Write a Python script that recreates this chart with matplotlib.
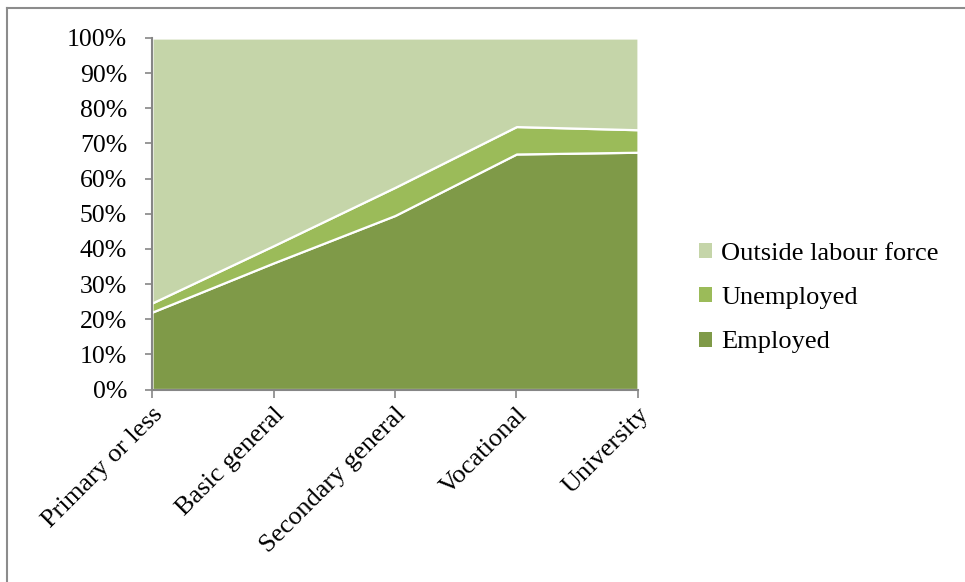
import matplotlib
matplotlib.use("Agg")
import matplotlib.pyplot as plt
from matplotlib.lines import Line2D
from matplotlib.patches import Patch
from matplotlib.ticker import PercentFormatter

categories = ["Primary or less", "Basic general", "Secondary general", "Vocational", "University"]
employed = [22.0, 36.0, 49.5, 67.0, 67.5]
unemployed = [2.6, 4.9, 8.0, 7.8, 6.4]
outside = [100 - e - u for e, u in zip(employed, unemployed)]

series_names = ["Employed", "Unemployed", "Outside labour force"]
colors = ["#7f9a48", "#9bbb59", "#c5d5a9"]

plt.rcParams["font.family"] = ["Liberation Serif", "DejaVu Serif"]

W, H = 965, 582
fig = plt.figure(figsize=(W / 100, H / 100), dpi=100)
ax = fig.add_axes([152 / W, 1 - 389.5 / H, (638 - 152) / W, (389.5 - 38) / H])

x = list(range(len(categories)))
ax.stackplot(x, employed, unemployed, outside, colors=colors,
             edgecolor="white", linewidth=1.6, labels=series_names)

ax.set_xlim(0, len(categories) - 1)
ax.set_ylim(0, 100)
ax.set_yticks(range(0, 101, 10))
ax.yaxis.set_major_formatter(PercentFormatter(decimals=0))
ax.set_xticks(x)
ax.set_xticklabels(categories, rotation=45, ha="right", va="top",
                   rotation_mode="anchor", fontsize=19)
ax.tick_params(axis="y", labelsize=18.5, length=5, width=1.2, color="#868686", pad=13)
ax.tick_params(axis="x", length=6, width=1.2, color="#868686", pad=4)

for side in ("top", "right"):
    ax.spines[side].set_visible(False)
for side in ("left", "bottom"):
    ax.spines[side].set_color("#868686")
    ax.spines[side].set_linewidth(1.5)

# legend: reverse order so the top series is listed first
handles = [Patch(facecolor=c, edgecolor="none") for c in colors][::-1]
fig.legend(handles, series_names[::-1], loc="center left",
           bbox_to_anchor=(675 / W, 1 - 298 / H), frameon=False,
           fontsize=19, handlelength=0.5, handleheight=0.5,
           handletextpad=0.35, labelspacing=0.85)

# outer chart frame
fig.add_artist(Line2D([7 / W, 1.0], [1 - 8 / H, 1 - 8 / H], color="#8c8c8c", lw=1.5))
fig.add_artist(Line2D([7 / W, 7 / W], [0.0, 1 - 8 / H], color="#8c8c8c", lw=1.5))

fig.savefig("out.png", dpi=100)
